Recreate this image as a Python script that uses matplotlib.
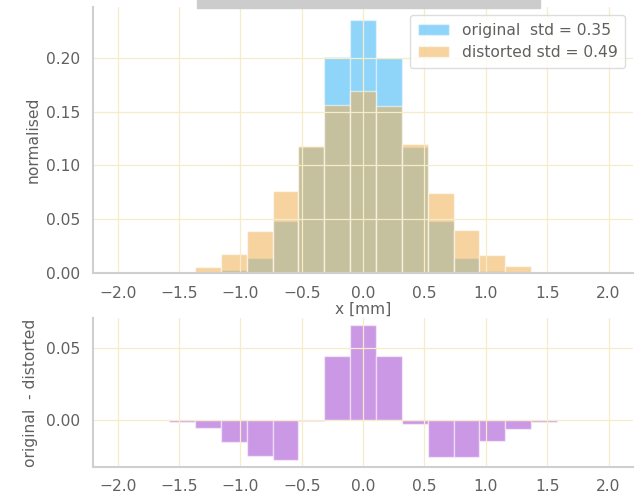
import numpy as np
import matplotlib
matplotlib.use("Agg")
import matplotlib.pyplot as plt
from matplotlib.patches import Rectangle

# ---- data ----
bin_lo, bin_hi, n_bins = -1.58, 1.58, 15
original = [0.0, 0.0, 0.0026, 0.014, 0.048, 0.117, 0.2005, 0.2355,
            0.1995, 0.117, 0.0486, 0.014, 0.002, 0.0, 0.0]
distorted = [0.0012, 0.0058, 0.0177, 0.0390, 0.0758, 0.1181, 0.1565, 0.1696,
             0.1553, 0.1200, 0.0745, 0.0400, 0.0164, 0.0062, 0.0012]
labels = ["original  std = 0.35", "distorted std = 0.49"]
top_yticks = [0.00, 0.05, 0.10, 0.15, 0.20]
bot_yticks = [0.00, 0.05]
xticks = [-2.0, -1.5, -1.0, -0.5, 0.0, 0.5, 1.0, 1.5, 2.0]

edges = np.linspace(bin_lo, bin_hi, n_bins + 1)
centers = 0.5 * (edges[:-1] + edges[1:])
width = edges[1] - edges[0]
diff = np.array(original) - np.array(distorted)

txt = "#606060"
grid_c = "#f7ecc8"
spine_c = "#cfcfcf"
fs = 11.2

fig = plt.figure(figsize=(6.35, 4.97), dpi=100)
ax1 = fig.add_axes([0.1465, 0.4507, 0.8505, 0.5353])
ax2 = fig.add_axes([0.1465, 0.061, 0.8505, 0.299])
ax2.patch.set_visible(False)

fig.patches.append(Rectangle((197/635, 1-8/497), (540-197)/635, 8/497,
                             transform=fig.transFigure, color="#cccccc", zorder=0))

ax1.bar(centers, original, width=width, color=(0.03, 0.64, 0.96), alpha=0.45,
        edgecolor="white", linewidth=1.0, label=labels[0])
ax1.bar(centers, distorted, width=width, color=(0.95, 0.69, 0.32), alpha=0.55,
        edgecolor="white", linewidth=1.0, label=labels[1])
ax2.bar(centers, diff, width=width, color="darkorchid", alpha=0.5,
        edgecolor="white", linewidth=1.0)

for ax in (ax1, ax2):
    ax.set_xlim(-2.2, 2.2)
    ax.set_xticks(xticks)
    ax.grid(True, color=grid_c, linewidth=0.9)
    for s in ("top", "right"):
        ax.spines[s].set_visible(False)
    for s in ("left", "bottom"):
        ax.spines[s].set_color(spine_c)
        ax.spines[s].set_linewidth(1.5)
    ax.tick_params(length=0, labelsize=fs, labelcolor=txt, pad=9)

ax1.set_yticks(top_yticks)
ax2.set_yticks(bot_yticks)
ax1.set_ylabel("normalised", color=txt, fontsize=fs)
ax1.set_xlabel("x [mm]", color=txt, fontsize=fs, labelpad=1)
ax2.set_ylabel("original  - distorted", color=txt, fontsize=fs)
ax1.yaxis.set_label_coords(-0.097, 0.5)
ax2.yaxis.set_label_coords(-0.102, 0.5)

leg = ax1.legend(loc="upper right", fontsize=fs, frameon=True,
                 borderaxespad=0.5, handlelength=2.0, borderpad=0.5)
for t in leg.get_texts():
    t.set_color(txt)
leg.get_frame().set_edgecolor("#d5d5d5")

fig.savefig("out.png", dpi=100)
